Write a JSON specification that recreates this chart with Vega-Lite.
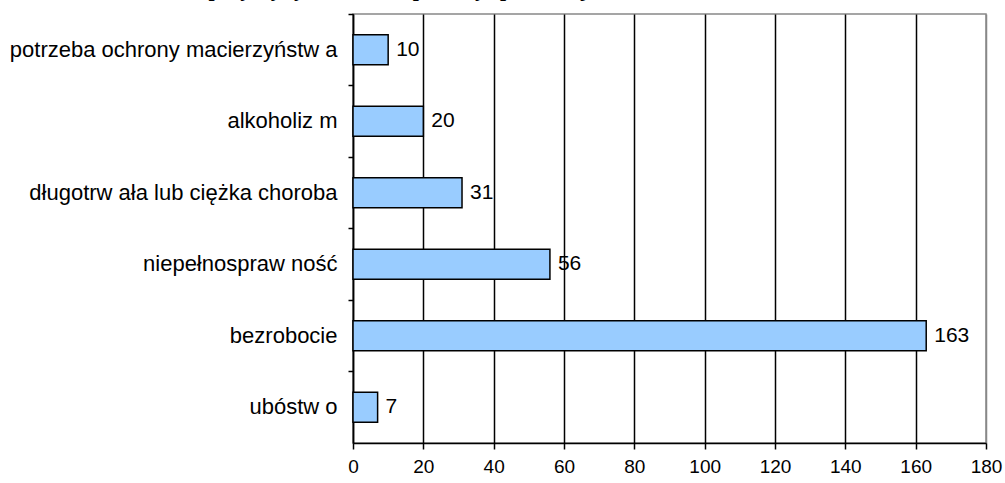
{
  "$schema": "https://vega.github.io/schema/vega-lite/v6.json",
  "width": 633,
  "height": 429,
  "autosize": {"type": "none"},
  "padding": {"left": 353, "top": 14, "right": 19, "bottom": 40},
  "background": "white",
  "title": {
    "text": "Główne przyczyny udzielania pomocy społecznej",
    "anchor": "end",
    "frame": "group",
    "dx": -398,
    "dy": 5,
    "font": "Liberation Serif",
    "fontWeight": "bold",
    "fontSize": 22,
    "color": "black",
    "baseline": "alphabetic",
    "offset": 0
  },
  "config": {
    "view": {"stroke": "#888888", "strokeWidth": 1.5},
    "axis": {
      "labelFont": "Liberation Sans",
      "labelColor": "black",
      "labelFontSize": 19,
      "domainColor": "black",
      "tickColor": "black",
      "domainWidth": 1.5,
      "tickWidth": 1.5
    }
  },
  "data": {
    "values": [
      {"category": "potrzeba ochrony macierzyństw a", "value": 10},
      {"category": "alkoholiz m", "value": 20},
      {"category": "długotrw ała lub ciężka choroba", "value": 31},
      {"category": "niepełnospraw ność", "value": 56},
      {"category": "bezrobocie", "value": 163},
      {"category": "ubóstw o", "value": 7}
    ]
  },
  "encoding": {
    "y": {
      "field": "category",
      "type": "nominal",
      "sort": null,
      "scale": {"paddingInner": 0, "paddingOuter": 0},
      "axis": {
        "title": null,
        "bandPosition": 0,
        "tickSize": 5,
        "labelPadding": 11,
        "labelFontSize": 22,
        "labelLimit": 0,
        "grid": false
      }
    },
    "x": {
      "field": "value",
      "type": "quantitative",
      "scale": {"domain": [0, 180], "nice": false},
      "axis": {
        "title": null,
        "values": [0, 20, 40, 60, 80, 100, 120, 140, 160, 180],
        "tickSize": 6,
        "labelPadding": 8,
        "grid": true,
        "gridColor": {"condition": {"test": "datum.value === 180", "value": "#888888"}, "value": "black"},
        "gridOpacity": 1,
        "gridWidth": 1.5,
        "labelFlush": false
      }
    }
  },
  "layer": [
    {
      "mark": {"type": "bar", "size": 30, "fill": "#99CCFF", "stroke": "black", "strokeWidth": 1.5}
    },
    {
      "mark": {"type": "text", "align": "left", "baseline": "middle", "dx": 8, "font": "Liberation Sans", "fontSize": 21, "color": "black"},
      "encoding": {"text": {"field": "value", "type": "quantitative"}}
    }
  ]
}
